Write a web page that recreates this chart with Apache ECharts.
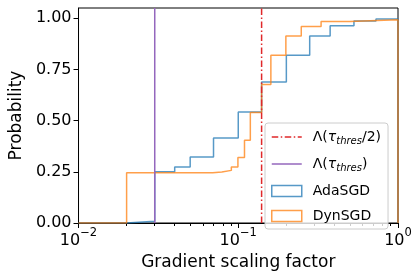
<!DOCTYPE html>
<html>
<head>
<meta charset="utf-8">
<script src="https://cdn.jsdelivr.net/npm/echarts@6/dist/echarts.min.js"></script>
<style>html,body{margin:0;padding:0;background:#fff}#c{width:415px;height:279px}</style>
</head>
<body>
<div id="c"></div>
<script>
// Step (cumulative histogram) edges and values
const adaEdges = [0.01, 0.02, 0.03, 0.04, 0.05, 0.07, 0.1, 0.14, 0.2, 0.28, 0.376, 0.53, 0.728, 1];
const adaCdf   = [0, 0.008, 0.25, 0.273, 0.322, 0.415, 0.542, 0.688, 0.819, 0.913, 0.963, 0.986, 0.996, 0];
const dynEdges = [0.01, 0.02, 0.0692, 0.0789, 0.0905, 0.0995, 0.1094, 0.119, 0.14, 0.16, 0.1986, 0.248, 0.33, 0.499, 1];
const dynCdf   = [0, 0.245, 0.249, 0.257, 0.273, 0.32, 0.404, 0.54, 0.677, 0.819, 0.913, 0.96, 0.984, 0.993, 0];
const tauHalf = 0.14;   // Λ(τ_thres/2)
const tauFull = 0.03;   // Λ(τ_thres)
const xTicks = [0.01, 0.1, 1];
const xMinorTicks = [0.02,0.03,0.04,0.05,0.06,0.07,0.08,0.09,0.2,0.3,0.4,0.5,0.6,0.7,0.8,0.9];
const yTicks = [0, 0.25, 0.5, 0.75, 1.0];

const FONT = 'DejaVu Sans';
const zip = (xs, ys) => xs.map((x, i) => [x, ys[i]]);

const legendNames = {
  'Λ(τthres/2)': '{n|Λ(}{t|τ}{s|thres}{n|/2)}',
  'Λ(τthres)': '{n|Λ(}{t|τ}{s|thres}{n|)}',
  'AdaSGD': '{n|AdaSGD}',
  'DynSGD': '{n|DynSGD}'
};
const RED = '#e0282a';
const DASHDOT = [6.5, 2.5, 1.5, 2.5];

const chart = echarts.init(document.getElementById('c'), null, {renderer: 'canvas'});
chart.setOption({
  animation: false,
  textStyle: {fontFamily: FONT},
  grid: {left: 74, right: 17, top: 8, bottom: 56, show: true, borderColor: '#000', borderWidth: 1},
  xAxis: [{
    type: 'log', logBase: 10, min: 0.01, max: 1,
    name: 'Gradient scaling factor', nameLocation: 'middle', nameGap: 27,
    nameTextStyle: {fontSize: 17, color: '#000', fontFamily: FONT},
    axisLine: {lineStyle: {color: '#000', width: 1}},
    axisTick: {length: 5, lineStyle: {color: '#000'}, customValues: xTicks},
    splitLine: {show: false}, minorTick: {show: false},
    axisLabel: {
      customValues: xTicks, margin: 4, color: '#000',
      formatter: v => {
        const e = Math.round(Math.log10(v));
        return '{b|10}{s|' + (e < 0 ? '−' + (-e) : e) + '}';
      },
      rich: {
        b: {fontSize: 16, fontFamily: FONT, color: '#000', lineHeight: 22, verticalAlign: 'bottom'},
        s: {fontSize: 11.5, fontFamily: FONT, color: '#000', lineHeight: 12, verticalAlign: 'top'}
      }
    }
  }, {
    type: 'log', logBase: 10, min: 0.01, max: 1, position: 'bottom',
    axisLine: {show: false}, axisLabel: {show: false}, splitLine: {show: false},
    axisTick: {length: 3, lineStyle: {color: '#000'}, customValues: xMinorTicks}
  }],
  yAxis: {
    type: 'value', min: 0, max: 1.05,
    name: 'Probability', nameLocation: 'middle', nameGap: 52,
    nameTextStyle: {fontSize: 17, color: '#000', fontFamily: FONT},
    axisLine: {show: true, lineStyle: {color: '#000', width: 1}},
    axisTick: {show: true, length: 5, lineStyle: {color: '#000'}, customValues: yTicks},
    splitLine: {show: false},
    axisLabel: {customValues: yTicks, fontSize: 16, color: '#000', margin: 7, fontFamily: FONT,
      formatter: v => v.toFixed(2)}
  },
  legend: {
    orient: 'vertical', left: 265, top: 123,
    itemWidth: 30, itemHeight: 11, itemGap: 11,
    padding: [7, 7, 6, 6],
    backgroundColor: 'rgba(255,255,255,0.8)', borderColor: '#cccccc', borderWidth: 1, borderRadius: 3,
    formatter: name => legendNames[name] || name,
    textStyle: {
      fontSize: 14, color: '#000', fontFamily: FONT, padding: [0, 0, 0, 6],
      rich: {
        n: {fontSize: 14, fontFamily: FONT, color: '#000', lineHeight: 18, verticalAlign: 'middle'},
        t: {fontSize: 14, fontFamily: FONT, color: '#000', fontStyle: 'italic', lineHeight: 18, verticalAlign: 'middle'},
        s: {fontSize: 10, fontFamily: FONT, color: '#000', fontStyle: 'italic', lineHeight: 10, verticalAlign: 'bottom'}
      }
    },
    data: [
      {name: 'Λ(τthres/2)', itemStyle: {color: 'rgba(0,0,0,0)', borderWidth: 0, opacity: 0},
        lineStyle: {color: RED, width: 1.5, type: DASHDOT}},
      {name: 'Λ(τthres)', itemStyle: {color: 'rgba(0,0,0,0)', borderWidth: 0, opacity: 0},
        lineStyle: {color: '#9467bd', width: 1.5}},
      {name: 'AdaSGD', icon: 'rect', itemStyle: {color: 'rgba(0,0,0,0)', borderColor: 'rgba(31,119,180,0.75)', borderWidth: 1.5}},
      {name: 'DynSGD', icon: 'rect', itemStyle: {color: 'rgba(0,0,0,0)', borderColor: 'rgba(255,127,14,0.75)', borderWidth: 1.5}}
    ]
  },
  series: [
    {
      name: 'AdaSGD', type: 'line', step: 'end', showSymbol: false, symbol: 'none',
      data: zip(adaEdges, adaCdf), z: 2,
      lineStyle: {color: '#1f77b4', width: 1.5, opacity: 0.75}, itemStyle: {color: '#1f77b4'}
    },
    {
      name: 'DynSGD', type: 'line', step: 'end', showSymbol: false, symbol: 'none',
      data: zip(dynEdges, dynCdf), z: 2,
      lineStyle: {color: '#ff7f0e', width: 1.5, opacity: 0.75}, itemStyle: {color: '#ff7f0e'}
    },
    {
      name: 'Λ(τthres/2)', type: 'line', showSymbol: false, symbol: 'none', z: 3,
      data: [[tauHalf, 0], [tauHalf, 1.05]],
      lineStyle: {color: RED, width: 1.5, type: DASHDOT}, itemStyle: {color: RED}
    },
    {
      name: 'Λ(τthres)', type: 'line', showSymbol: false, symbol: 'none', z: 3,
      data: [[tauFull, 0], [tauFull, 1.05]],
      lineStyle: {color: '#9467bd', width: 1.5}, itemStyle: {color: '#9467bd'}
    }
  ]
});
</script>
</body>
</html>
